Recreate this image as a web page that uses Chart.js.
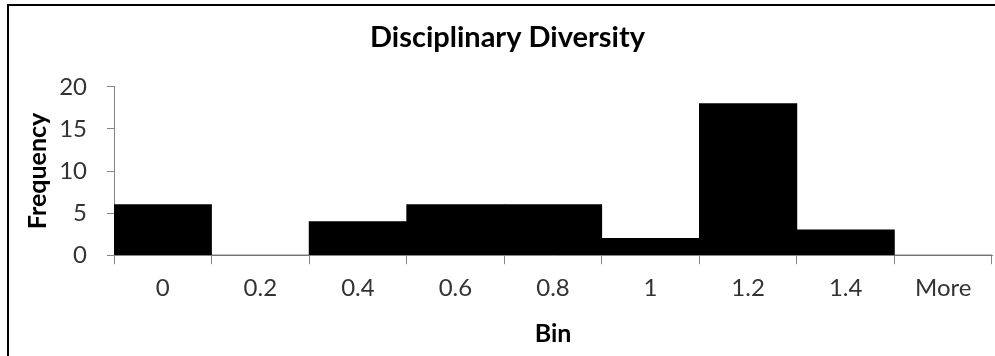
<!DOCTYPE html>
<html>
<head>
<meta charset="utf-8">
<script src="https://cdn.jsdelivr.net/npm/chart.js@4/dist/chart.umd.min.js"></script>
<style>
html,body{margin:0;padding:0;background:#fff;}
#wrap{position:relative;width:995px;height:356px;}
</style>
</head>
<body>
<div id="wrap"><canvas id="c" width="995" height="356"></canvas></div>
<script>
const categories = ["0", "0.2", "0.4", "0.6", "0.8", "1", "1.2", "1.4", "More"];
const frequency = [6, 0, 4, 6, 6, 2, 18, 3, 0];
const yTicks = [0, 5, 10, 15, 20];

const frame = {
  id: 'frame',
  afterDraw(chart) {
    const ctx = chart.ctx;
    ctx.save();
    ctx.fillStyle = '#000';
    ctx.fillRect(7, 4, 988, 2);
    ctx.fillRect(7, 4, 2, 352);
    ctx.restore();
  }
};

const FONT = 'Lato, "Open Sans", sans-serif';
const axisColor = '#868686';

new Chart(document.getElementById('c'), {
  type: 'bar',
  data: {
    labels: categories,
    datasets: [{
      label: 'Frequency',
      data: frequency,
      backgroundColor: '#000',
      borderWidth: 0,
      barPercentage: 1,
      categoryPercentage: 1
    }]
  },
  options: {
    responsive: false,
    animation: false,
    layout: { padding: { left: 23, right: 3, top: 0, bottom: 7 } },
    plugins: {
      legend: { display: false },
      tooltip: { enabled: false },
      title: {
        display: true,
        text: 'Disciplinary Diversity',
        color: '#000',
        font: { family: FONT, size: 29, weight: 'bold' },
        padding: { top: 20, bottom: 32 }
      }
    },
    scales: {
      x: {
        offset: true,
        grid: { offset: true, drawOnChartArea: false, drawTicks: true, tickLength: 9, color: axisColor, lineWidth: 1 },
        border: { color: axisColor, width: 1 },
        ticks: { color: '#333', font: { family: FONT, size: 24 }, padding: 10, maxRotation: 0, autoSkip: false },
        title: { display: true, text: 'Bin', color: '#000', font: { family: FONT, size: 25, weight: 'bold' }, padding: { top: 6, bottom: 0 } }
      },
      y: {
        min: 0,
        max: 20,
        afterBuildTicks(scale) { scale.ticks = yTicks.map(v => ({ value: v })); },
        afterFit(scale) { scale.width = 91; },
        grid: { drawOnChartArea: false, drawTicks: true, tickLength: 7, color: axisColor, lineWidth: 1 },
        border: { color: axisColor, width: 1 },
        ticks: { color: '#333', font: { family: FONT, size: 24 }, padding: 20 },
        title: { display: true, text: 'Frequency', color: '#000', font: { family: FONT, size: 25, weight: 'bold' }, padding: { top: 0, bottom: 8 } }
      }
    }
  },
  plugins: [frame]
});
</script>
</body>
</html>
